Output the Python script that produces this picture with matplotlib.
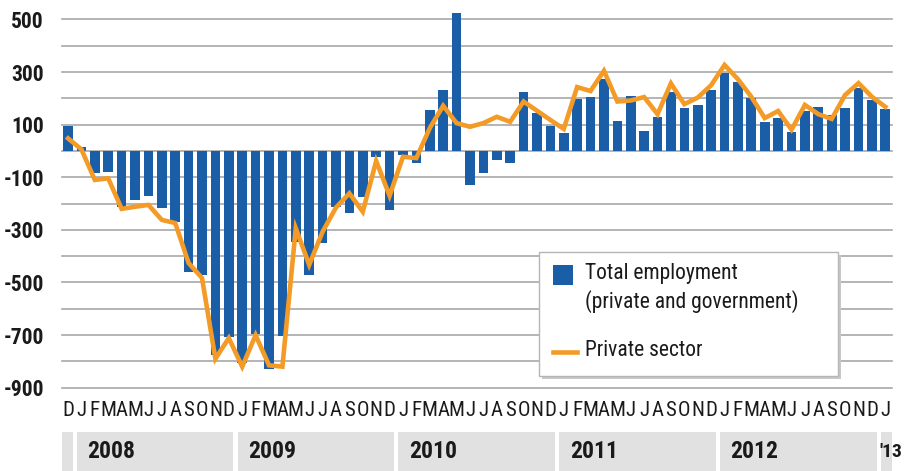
import matplotlib
matplotlib.use("Agg")
import matplotlib.pyplot as plt
import matplotlib.transforms as mtransforms
from matplotlib.patches import Rectangle
from matplotlib.lines import Line2D
from matplotlib import font_manager as fm

# ---------------- data ----------------
month_letters = ["D"] + ["J", "F", "M", "A", "M", "J", "J", "A", "S", "O", "N", "D"] * 5 + ["J"]

total_employment = [
    95,                                                     # Dec 2007
    14, -82, -78, -213, -186, -171, -217, -269, -459, -472, -775, -706,   # 2008
    -805, -695, -830, -705, -345, -471, -350, -212, -236, -174, -22, -224,  # 2009
    -15, -44, 156, 232, 523, -129, -84, -34, -44, 225, 143, 95,            # 2010
    67, 196, 206, 273, 115, 209, 77, 130, 226, 164, 175, 233,              # 2011
    298, 262, 203, 112, 124, 74, 153, 166, 137, 162, 238, 194,             # 2012
    159,                                                    # Jan 2013
]

private_sector = [
    48,
    6, -110, -104, -220, -212, -205, -262, -274, -426, -483, -790, -711,
    -820, -700, -815, -820, -294, -433, -307, -215, -161, -231, -38, -170,
    -22, -27, 87, 172, 106, 92, 106, 130, 111, 188, 153, 118,
    84, 243, 228, 305, 188, 192, 205, 140, 257, 178, 203, 250,
    327, 273, 206, 125, 152, 81, 175, 140, 122, 213, 258, 206,
    168,
]

year_labels = ["", "2008", "2009", "2010", "2011", "2012", "'13"]
year_spans = [(-0.6, 0.5), (0.5, 12.5), (12.5, 24.5), (24.5, 36.5),
              (36.5, 48.5), (48.5, 60.5), (60.5, 61.65)]

ytick_values = [500, 300, 100, -100, -300, -500, -700, -900]

# ---------------- fonts: look for an installed condensed face ----------------
def _weight(f):
    w = f.weight
    if isinstance(w, str):
        w = fm.weight_dict.get(w.lower(), 400)
    return int(w)

def _is_cond(f):
    s = str(f.stretch).lower()
    n = f.name.lower()
    p = f.fname.lower()
    return any(k in t for k in ("condensed", "narrow") for t in (s, n, p))

_cands = [f for f in fm.fontManager.ttflist if _is_cond(f) and f.style == "normal"
          and "extra" not in f.fname.lower() and "ultra" not in f.fname.lower()
          and "semi" not in f.fname.lower()]
_pref = ["Liberation Sans Narrow", "Roboto Condensed", "Open Sans Condensed",
         "DejaVu Sans", "Noto Sans", "Roboto", "Open Sans", "Lato", "Inter"]

def _pick(bold):
    pool = sorted(_cands, key=lambda f: (_pref.index(f.name) if f.name in _pref else 99,
                                         abs(_weight(f) - (700 if bold else 400))))
    return pool[0].fname if pool else None

_reg = _pick(False)
_bold = _pick(True)
CONDENSED = _reg is not None

def FP(size, bold=False):
    if CONDENSED:
        return fm.FontProperties(fname=(_bold if bold else _reg), size=size)
    return fm.FontProperties(family="DejaVu Sans", size=size * 0.8,
                             weight=("bold" if bold else "normal"))

# ---------------- style ----------------
BLUE = "#1a5ea8"
ORANGE = "#f39b26"
GRID = "#a8a8a8"
BAND = "#e1e1e1"
TXT = "#1a1a1a"

W, H = 905, 471
fig = plt.figure(figsize=(W / 100, H / 100), dpi=100)
fig.patch.set_facecolor("white")

def fx(px):
    return px / W

def fy(py):
    return 1 - py / H

ax_left, ax_right, ax_top, ax_bottom = 62, 892, 0, 395
ax = fig.add_axes([fx(ax_left), fy(ax_bottom), (ax_right - ax_left) / W, (ax_bottom - ax_top) / H])

x = list(range(len(total_employment)))
ax.set_xlim(-0.45, 61.5)
ax.set_ylim(-927.8, 574.1)

for v in range(-900, 501, 100):
    ax.axhline(v, color=GRID, lw=1.2, zorder=0, clip_on=False)

ax.bar(x, total_employment, width=0.72, color=BLUE, zorder=2)
ax.plot(x, private_sector, color=ORANGE, lw=3.3, zorder=3, solid_joinstyle="miter")

for s in ax.spines.values():
    s.set_visible(False)

ax.set_yticks(ytick_values)
ax.set_yticklabels([str(v) for v in ytick_values])
for t in ax.get_yticklabels():
    t.set_fontproperties(FP(15.5, bold=True))
    t.set_color(TXT)
ax.tick_params(axis="y", length=0, pad=13)

ax.set_xticks(x)
ax.set_xticklabels(month_letters)
for t in ax.get_xticklabels():
    t.set_fontproperties(FP(15))
    t.set_color(TXT)
ax.tick_params(axis="x", length=0, pad=4)

# year band
trans = mtransforms.blended_transform_factory(ax.transData, fig.transFigure)
gap = 0.15
for (a, b), lab in zip(year_spans, year_labels):
    ax.add_patch(Rectangle((a + gap, 0), (b - a) - 2 * gap, fy(432),
                           transform=trans, facecolor=BAND, edgecolor="none",
                           clip_on=False, zorder=1))
    if lab:
        if b - a > 2:
            ax.text(a + 0.95, fy(452), lab, transform=trans, fontproperties=FP(17, bold=True),
                    color=TXT, ha="left", va="center", clip_on=False)
        else:
            ax.text(a + 0.05, fy(452), lab, transform=trans, fontproperties=FP(14, bold=True),
                    color=TXT, ha="left", va="center", clip_on=False)

# legend box (manual)
lx0, lx1, ly0, ly1 = 539, 838, 252, 376
fig.patches.append(Rectangle((fx(lx0 + 3), fy(ly1 + 3)), (lx1 - lx0) / W, (ly1 - ly0) / H,
                             transform=fig.transFigure, facecolor="#c8c8c8",
                             edgecolor="none", zorder=5))
fig.patches.append(Rectangle((fx(lx0), fy(ly1)), (lx1 - lx0) / W, (ly1 - ly0) / H,
                             transform=fig.transFigure, facecolor="white",
                             edgecolor="#b5b5b5", lw=1.0, zorder=6))
fig.patches.append(Rectangle((fx(553), fy(285)), 20 / W, 20 / H,
                             transform=fig.transFigure, facecolor=BLUE,
                             edgecolor="none", zorder=7))
fig.lines.append(Line2D([fx(553), fx(577)], [fy(352), fy(352)], transform=fig.transFigure,
                        color=ORANGE, lw=3.3, zorder=7))
for yy, s in ((274, "Total employment"), (302, "(private and government)"), (351, "Private sector")):
    fig.text(fx(585), fy(yy), s, fontproperties=FP(15.5), color=TXT,
             ha="left", va="center", zorder=8)

fig.savefig("out.png", dpi=100, facecolor="white")
